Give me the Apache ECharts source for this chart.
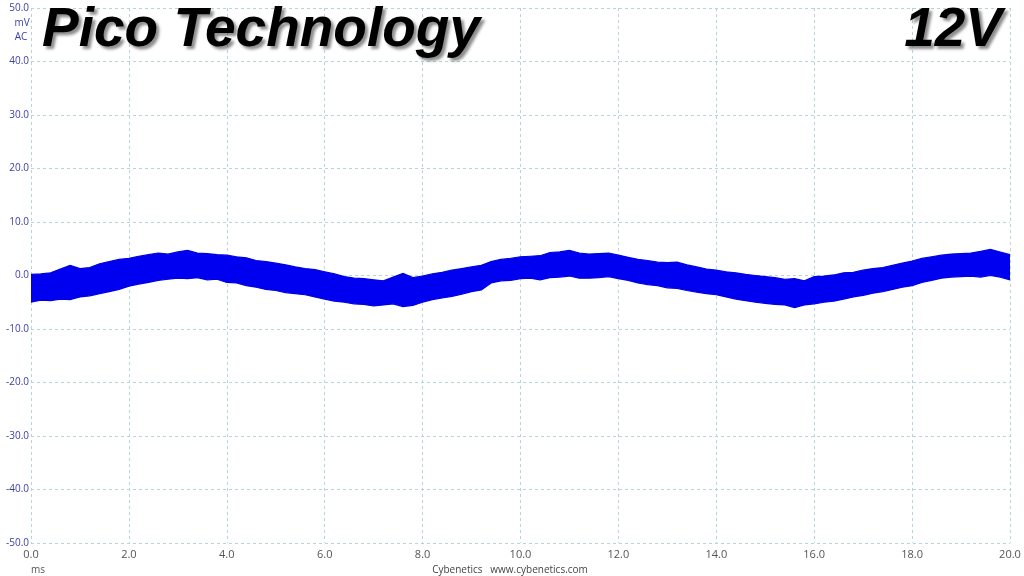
<!DOCTYPE html>
<html>
<head>
<meta charset="utf-8">
<script src="https://cdn.jsdelivr.net/npm/echarts@6/dist/echarts.min.js"></script>
<style>
html,body{margin:0;padding:0;background:#fff;}
#c{width:1024px;height:576px;}
</style>
</head>
<body>
<div id="c"></div>
<script>
// time axis (ms), sampled every 0.2 ms
const timeMs = [];
for (let i = 0; i <= 100; i++) timeMs.push(+(i * 0.2).toFixed(1));

// upper envelope of ripple (mV)
const upperMv = [
  0.2, 0.3, 0.5, 1.2, 1.9, 1.3, 1.5, 2.2, 2.6, 3.0,
  3.2, 3.6, 3.9, 4.2, 4.0, 4.4, 4.7, 4.2, 4.1, 3.9,
  3.8, 3.5, 3.3, 2.8, 2.6, 2.3, 2.0, 1.6, 1.3, 1.1,
  0.7, 0.3, -0.2, -0.5, -0.6, -0.8, -1.0, -0.3, 0.4, -0.4,
  -0.1, 0.3, 0.6, 1.0, 1.3, 1.6, 1.9, 2.6, 3.0, 3.2,
  3.5, 3.6, 3.7, 4.3, 4.4, 4.7, 4.2, 4.0, 4.1, 4.2,
  3.8, 3.4, 3.0, 2.8, 2.5, 2.4, 2.5, 2.0, 1.6, 1.2,
  1.0, 0.7, 0.5, 0.2, 0.0, -0.2, -0.4, -0.7, -0.6, -1.0,
  -0.2, -0.1, 0.1, 0.5, 0.6, 1.0, 1.3, 1.5, 1.9, 2.3,
  2.7, 3.2, 3.5, 3.8, 4.0, 4.1, 4.2, 4.5, 4.9, 4.4,
  3.9
];

// lower envelope of ripple (mV)
const lowerMv = [
  -5.0, -4.6, -4.7, -4.4, -4.5, -4.0, -3.8, -3.4, -3.0, -2.6,
  -2.0, -1.6, -1.3, -0.9, -0.7, -0.5, -0.6, -0.4, -0.8, -0.7,
  -1.3, -1.4, -1.9, -2.2, -2.6, -2.8, -3.2, -3.4, -3.6, -4.0,
  -4.4, -4.8, -5.0, -5.3, -5.4, -5.7, -5.5, -5.3, -5.8, -5.6,
  -5.0, -4.5, -4.2, -3.9, -3.5, -3.0, -2.7, -1.4, -1.0, -0.9,
  -0.6, -0.5, -0.8, -0.4, -0.3, -0.1, -0.5, -0.5, -0.4, -0.2,
  -0.6, -0.9, -1.4, -1.7, -1.9, -2.3, -2.4, -2.8, -3.1, -3.4,
  -3.6, -4.0, -4.4, -4.7, -5.0, -5.2, -5.4, -5.5, -6.0, -5.5,
  -5.3, -5.0, -4.8, -4.4, -4.0, -3.7, -3.3, -3.0, -2.6, -2.2,
  -1.9, -1.3, -0.9, -0.5, -0.3, -0.2, -0.1, -0.3, 0.0, -0.3,
  -0.8
];

const yTicks = [-50, -40, -30, -20, -10, 0, 10, 20, 30, 40, 50];
const xTicks = [0, 2, 4, 6, 8, 10, 12, 14, 16, 18, 20];

const bandData = timeMs.map((t, i) => [t, lowerMv[i], upperMv[i]]);

const chart = echarts.init(document.getElementById('c'), null, {renderer: 'canvas'});

const gridColor = '#b9d3da';
function titleFill() {
  return new echarts.graphic.LinearGradient(0, 0, 0, 1, [
    {offset: 0, color: '#111111'},
    {offset: 0.25, color: '#8a8a8a'},
    {offset: 0.5, color: '#3a3a3a'},
    {offset: 0.8, color: '#111111'},
    {offset: 1, color: '#000000'}
  ]);
}

chart.setOption({
  animation: false,
  backgroundColor: '#ffffff',
  grid: {left: 31, right: 14, top: 8, bottom: 33, containLabel: false},
  xAxis: {
    type: 'value', min: xTicks[0], max: xTicks[xTicks.length - 1], interval: 2,
    axisLine: {show: false}, axisTick: {show: false},
    splitLine: {show: true, lineStyle: {color: gridColor, type: [3, 3], width: 1}},
    axisLabel: {
      color: '#555555', fontSize: 11, fontFamily: 'Open Sans', margin: 6,
      formatter: v => v.toFixed(1), showMinLabel: true, showMaxLabel: true
    }
  },
  yAxis: {
    type: 'value', min: yTicks[0], max: yTicks[yTicks.length - 1], interval: 10,
    axisLine: {show: false}, axisTick: {show: false},
    splitLine: {show: true, lineStyle: {color: gridColor, type: [3, 3], width: 1}},
    axisLabel: {
      color: '#3c3ca6', fontSize: 10, fontFamily: 'Open Sans', margin: 2,
      formatter: v => v.toFixed(1)
    }
  },
  series: [{
    type: 'custom',
    data: bandData,
    encode: {x: 0, y: [1, 2]},
    clip: true,
    renderItem: function (params, api) {
      if (params.dataIndex !== 0) return null;
      const pts = [];
      for (let i = 0; i < timeMs.length; i++) pts.push(api.coord([timeMs[i], upperMv[i]]));
      for (let i = timeMs.length - 1; i >= 0; i--) pts.push(api.coord([timeMs[i], lowerMv[i]]));
      return {
        type: 'polygon',
        shape: {points: pts},
        style: {fill: '#0000f0', stroke: '#0000e0', lineWidth: 1.2}
      };
    }
  }],
  graphic: [
    {type: 'text', left: 42, top: 3, z: 10,
      style: {text: 'Pico Technology', font: 'italic bold 55px "Liberation Sans", Arial, sans-serif',
        fill: titleFill(), textShadowColor: 'rgba(0,0,0,0.45)', textShadowBlur: 3,
        textShadowOffsetX: 3, textShadowOffsetY: 3}},
    {type: 'text', right: 22, top: 3, z: 10,
      style: {text: '12V', font: 'italic bold 55px "Liberation Sans", Arial, sans-serif',
        fill: titleFill(), textShadowColor: 'rgba(0,0,0,0.45)', textShadowBlur: 3,
        textShadowOffsetX: 3, textShadowOffsetY: 3}},
    {type: 'text', x: 22, y: 23, z: 10,
      style: {text: 'mV', font: '10px "Open Sans"', fill: '#3c3ca6', align: 'center', verticalAlign: 'middle'}},
    {type: 'text', x: 21, y: 37, z: 10,
      style: {text: 'AC', font: '10px "Open Sans"', fill: '#3c3ca6', align: 'center', verticalAlign: 'middle'}},
    {type: 'text', x: 38, y: 570, z: 10,
      style: {text: 'ms', font: '10px "Open Sans"', fill: '#555555', align: 'center', verticalAlign: 'middle'}},
    {type: 'text', x: 510, y: 570, z: 10,
      style: {text: 'Cybenetics   www.cybenetics.com', font: '10px "Open Sans"', fill: '#444444', align: 'center', verticalAlign: 'middle'}}
  ]
});
</script>
</body>
</html>
